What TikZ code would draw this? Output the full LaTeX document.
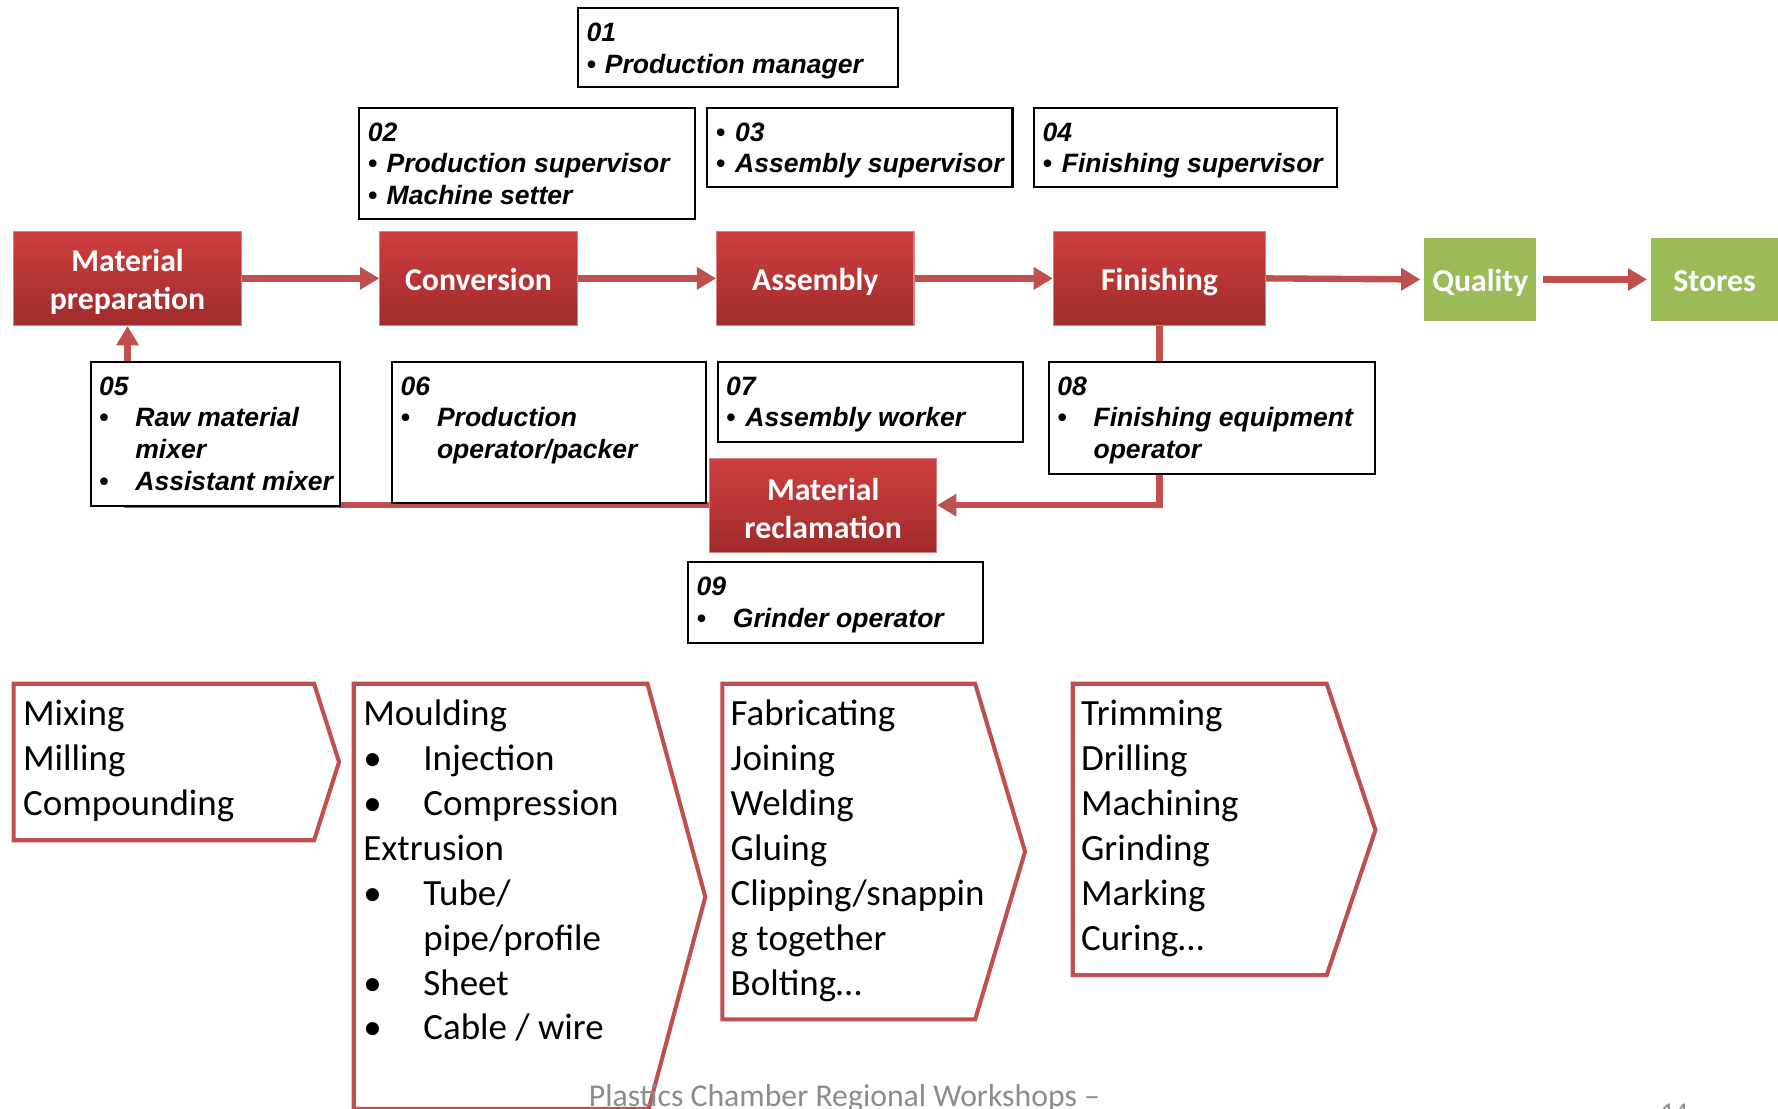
\documentclass[tikz,border=0pt]{standalone}
\usepackage{fontspec}
\usetikzlibrary{arrows.meta,calc}
\newfontfamily\arialfont{Liberation Sans}
\newfontfamily\calfont{Carlito}
\definecolor{redtop}{HTML}{CE3F3E}
\definecolor{redbot}{HTML}{A02B2B}
\definecolor{linered}{HTML}{C0504D}
\definecolor{qgreen}{HTML}{9BBB59}
\definecolor{footgray}{HTML}{8C8C8C}
\newcommand\boxfont{\arialfont\bfseries\itshape\fontsize{11.7}{14}\selectfont}
\newcommand\redfont{\calfont\bfseries\fontsize{14}{16.5}\selectfont}
\newcommand\listfont{\calfont\fontsize{16.3}{19.8}\selectfont}
\newcommand\footfont{\calfont\fontsize{14}{16}\selectfont}
\newcommand\bl[1]{\makebox[#1][l]{•}}
\begin{document}
\begin{tikzpicture}[x=0.5pt,y=-0.5pt,
 redbox/.style={draw=linered!70!white, line width=0.5pt, top color=redtop, bottom color=redbot, inner sep=0pt},
 greenbox/.style={fill=qgreen, inner sep=0pt},
 onelabel/.style={text=white, font=\redfont, inner sep=0pt, text height=10.3pt, text depth=0pt},
 twolabel/.style={text=white, font=\redfont, inner sep=0pt, align=center, yshift=-1.5pt},
 wbox/.style={draw=black, line width=0.9pt, fill=white, inner sep=0pt, anchor=north west},
 btxt/.style={font=\boxfont, align=left, inner sep=0pt, anchor=north west},
 flow/.style={draw=linered, line width=2.8pt, -{Triangle[length=8.5pt,width=9.5pt]}},
 chev/.style={draw=linered, line width=1.8pt, fill=white, line join=miter},
 ltxt/.style={font=\listfont, align=left, inner sep=0pt, anchor=north west},
]
\useasboundingbox[fill=white] (0,0) rectangle (1568,978);

% process boxes
\node[redbox, minimum width=100.5pt, minimum height=41.5pt] (mp) at (112.5,245.5) {};
\node[redbox, minimum width=87pt, minimum height=41.5pt] (conv) at (422,245.5) {};
\node[redbox, minimum width=87pt, minimum height=41.5pt] (asm) at (719,245.5) {};
\node[redbox, minimum width=93.5pt, minimum height=41.5pt] (fin) at (1022.5,245.5) {};
\node[greenbox, minimum width=49.5pt, minimum height=36.5pt] (qual) at (1305.5,246.5) {};
\node[greenbox, minimum width=56pt, minimum height=36.5pt] (stor) at (1512,246.5) {};
\node[redbox, minimum width=100pt, minimum height=41.5pt] (mr) at (726,445.5) {};

\node[twolabel] (mpl) at (mp.center) {Material\\preparation};
\node[onelabel] (convl) at (conv.center) {Conversion};
\node[onelabel] (asml) at (asm.center) {Assembly};
\node[onelabel] (finl) at (fin.center) {Finishing};
\node[onelabel] (quall) at (qual.center) {Quality};
\node[onelabel] (storl) at (stor.center) {Stores};
\node[twolabel] (mrl) at (mr.center) {Material\\reclamation};

% connectors
\draw[flow] (mp.east) -- (conv.west);
\draw[flow] (conv.east) -- (asm.west);
\draw[flow] (asm.east) -- (fin.west);
\draw[flow, shorten >=1.5pt] (fin.east) -- (qual.west);
\draw[flow, shorten <=2.5pt, shorten >=1.5pt] (qual.east) -- (stor.west);
\draw[flow] (mr.west) -| (mp.south);
\draw[flow] (fin.south) |- (mr.east);

% role boxes
\node[wbox, minimum width=141pt, minimum height=35pt] (b01) at (509,6) {};
\node[btxt] (t01) at ([xshift=4pt,yshift=-5.2pt]b01.north west) {\strut 01\\\strut\bl{8pt}Production manager};
\node[wbox, minimum width=148pt, minimum height=49pt] (b02) at (316,94) {};
\node[btxt] (t02) at ([xshift=4pt,yshift=-5.2pt]b02.north west) {\strut 02\\\strut\bl{8.3pt}Production supervisor\\\strut\bl{8.3pt}Machine setter};
\node[wbox, minimum width=134.5pt, minimum height=35pt] (b03) at (623,94) {};
\node[btxt] (t03) at ([xshift=4pt,yshift=-5.2pt]b03.north west) {\strut\bl{8.5pt}03\\\strut\bl{8.5pt}Assembly supervisor};
\node[wbox, minimum width=133.5pt, minimum height=35pt] (b04) at (911,94) {};
\node[btxt] (t04) at ([xshift=4pt,yshift=-5.2pt]b04.north west) {\strut 04\\\strut\bl{8.5pt}Finishing supervisor};
\node[wbox, minimum width=110pt, minimum height=63.5pt] (b05) at (79,318) {};
\node[btxt] (t05) at ([xshift=4pt,yshift=-5.2pt]b05.north west) {\strut 05\\\strut\bl{16pt}Raw material\\\strut\hspace*{16pt}mixer\\\strut\bl{16pt}Assistant mixer};
\node[wbox, minimum width=138.5pt, minimum height=62.5pt] (b06) at (345,318) {};
\node[btxt] (t06) at ([xshift=4pt,yshift=-5.2pt]b06.north west) {\strut 06\\\strut\bl{16pt}Production\\\strut\hspace*{16pt}operator/packer};
\node[wbox, minimum width=134.5pt, minimum height=35.5pt] (b07) at (632,318) {};
\node[btxt] (t07) at ([xshift=4pt,yshift=-5.2pt]b07.north west) {\strut 07\\\strut\bl{8.5pt}Assembly worker};
\node[wbox, minimum width=144pt, minimum height=49.5pt] (b08) at (924,318) {};
\node[btxt] (t08) at ([xshift=4pt,yshift=-5.2pt]b08.north west) {\strut 08\\\strut\bl{16pt}Finishing equipment\\\strut\hspace*{16pt}operator};
\node[wbox, minimum width=130pt, minimum height=35.5pt] (b09) at (606,495) {};
\node[btxt] (t09) at ([xshift=4pt,yshift=-5.2pt]b09.north west) {\strut 09\\\strut\bl{16pt}Grinder operator};

% chevrons
\draw[chev] (12,603) -- (277,603) -- (299,672) -- (277,741) -- (12,741) -- cycle;
\draw[chev] (312,603) -- (571,603) -- (622,791) -- (572,978) -- (312,978) -- cycle;
\draw[chev] (637,603) -- (860,603) -- (904,751) -- (860,899) -- (637,899) -- cycle;
\draw[chev] (946,603) -- (1170,603) -- (1213,732) -- (1170,860) -- (946,860) -- cycle;

\node[ltxt] (l1) at (20,611.8) {\strut Mixing\\\strut Milling\\\strut Compounding};
\node[ltxt] (l2) at (320,611.8) {\strut Moulding\\\strut\bl{26.5pt}Injection\\\strut\bl{26.5pt}Compression\\\strut Extrusion\\\strut\bl{26.5pt}Tube/\\\strut\hspace*{26.5pt}pipe/profile\\\strut\bl{26.5pt}Sheet\\\strut\bl{26.5pt}Cable / wire};
\node[ltxt] (l3) at (644,611.8) {\strut Fabricating\\\strut Joining\\\strut Welding\\\strut Gluing\\\strut Clipping/snappin\\\strut g together\\\strut Bolting…};
\node[ltxt] (l4) at (953,611.8) {\strut Trimming\\\strut Drilling\\\strut Machining\\\strut Grinding\\\strut Marking\\\strut Curing…};

% footer
\node[font=\footfont, text=footgray, inner sep=0pt, anchor=base west] (foot) at (519,976) {Plastics Chamber Regional Workshops –};
\node[font=\calfont\fontsize{12}{14}\selectfont, text=footgray, inner sep=0pt, anchor=north west] (pg) at (1464,973.5) {14};
\end{tikzpicture}
\end{document}
